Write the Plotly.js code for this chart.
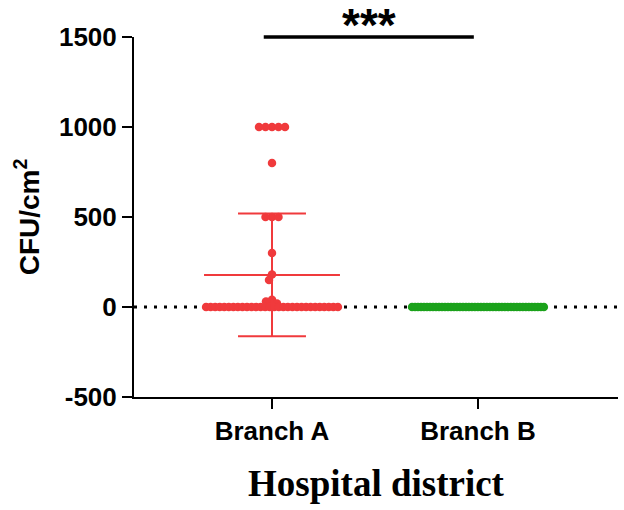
<!DOCTYPE html>
<html>
<head>
<meta charset="utf-8">
<script src="https://cdn.plot.ly/plotly-3.0.1.min.js"></script>
<style>html,body{margin:0;padding:0;background:#fff;}#chart{width:624px;height:510px;}</style>
</head>
<body>
<div id="chart"></div>
<script>
// ---- data ----
const categories = ["Branch A", "Branch B"];
const branchA = [1000, 1000, 1000, 1000, 1000, 800, 500, 500, 500, 300, 180, 150, 40, 30, 20,
  0,0,0,0,0,0,0,0,0,0,0,0,0,0,0,0,0,0,0,0,0,0,0,0,0,0,0,0,0,0];
const branchB = [0,0,0,0,0,0,0,0,0,0,0,0,0,0,0,0,0,0,0,0,0,0,0,0,0,0,0,0,0,0,
  0,0,0,0,0,0,0,0,0,0,0,0,0,0,0];
const yTicks = [-500, 0, 500, 1000, 1500];
const sigLabel = "***";

const colors = ["#F03A3C", "#1BA21B"];

// ---- helpers ----
function mean(a){ return a.reduce((s,v)=>s+v,0)/a.length; }
function sd(a){ const m=mean(a); return Math.sqrt(a.reduce((s,v)=>s+(v-m)*(v-m),0)/(a.length-1)); }

// scatter layout (beeswarm-like): zero row spread evenly, others avoid overlap
const pxPerX = 206, pxPerY = 0.18, dotD = 7, halfW = 0.32;
function swarm(vals, center){
  const xs = new Array(vals.length);
  const zeroIdx = [], placed = [];
  vals.forEach((v,i)=>{ if(v===0) zeroIdx.push(i); });
  zeroIdx.forEach((i,k)=>{
    xs[i] = center + (zeroIdx.length>1 ? -halfW + 2*halfW*k/(zeroIdx.length-1) : 0);
  });
  const order = vals.map((v,i)=>i).filter(i=>vals[i]!==0).sort((a,b)=>vals[b]-vals[a]);
  order.forEach(i=>{
    const step = 0.5/pxPerX;
    for(let k=0;k<400;k++){
      const off = (k%2===0?1:-1)*Math.ceil(k/2)*step;
      const ok = placed.every(p=>{
        const dx=(off-p.o)*pxPerX, dy=(vals[i]-p.v)*pxPerY;
        return dx*dx+dy*dy >= (dotD-1)*(dotD-1);
      });
      if(ok){ xs[i]=center+off; placed.push({o:off,v:vals[i]}); break; }
    }
  });
  return xs;
}

const groups = [branchA, branchB];
const traces = [];

// zero reference dotted line
traces.push({x:[-0.67,1.68], y:[0,0], mode:"lines", line:{color:"#000", width:3, dash:"3px,7px"},
  hoverinfo:"skip", showlegend:false});

groups.forEach((g,gi)=>{
  traces.push({
    x: swarm(g, gi), y: g, type:"scatter", mode:"markers",
    marker:{color:colors[gi], size:8.5, line:{width:0}},
    showlegend:false, cliponaxis:false
  });
});

// mean and SD lines
groups.forEach((g,gi)=>{
  const m = mean(g), s = sd(g);
  const c = colors[gi];
  const lw = 2;
  traces.push({x:[gi-0.33, gi+0.33], y:[m,m], mode:"lines", line:{color:c,width:lw}, showlegend:false, hoverinfo:"skip"});
  if(s>0){
    traces.push({x:[gi,gi], y:[m-s,m+s], mode:"lines", line:{color:c,width:lw}, showlegend:false, hoverinfo:"skip"});
    traces.push({x:[gi-0.165, gi+0.165], y:[m+s,m+s], mode:"lines", line:{color:c,width:lw}, showlegend:false, hoverinfo:"skip"});
    traces.push({x:[gi-0.165, gi+0.165], y:[m-s,m-s], mode:"lines", line:{color:c,width:lw}, showlegend:false, hoverinfo:"skip"});
  }
});

const layout = {
  width:624, height:510,
  margin:{l:134, r:6, t:37, b:113},
  paper_bgcolor:"#fff", plot_bgcolor:"#fff",
  showlegend:false,
  xaxis:{
    range:[-0.67, 1.68], tickmode:"array", tickvals:[0,1], ticktext:categories,
    showgrid:false, zeroline:false, showline:true, linecolor:"#000", linewidth:2,
    ticks:"outside", ticklen:10, tickwidth:1.5, tickcolor:"#000",
    tickfont:{family:"Liberation Sans, Arial, sans-serif", size:26, color:"#000", weight:"bold"},
    title:{text:"Hospital district", standoff:25,
      font:{family:"Liberation Serif, Times New Roman, serif", size:37, color:"#000", weight:"bold"}}
  },
  yaxis:{
    range:[-500, 1500], tickmode:"array", tickvals:yTicks, ticktext:yTicks.map(String),
    showgrid:false, zeroline:false, showline:true, linecolor:"#000", linewidth:2,
    ticks:"outside", ticklen:10, tickwidth:2, tickcolor:"#000",
    tickfont:{family:"Liberation Sans, Arial, sans-serif", size:26, color:"#000", weight:"bold"},
    title:{text:"CFU/cm<sup>2</sup>", standoff:11,
      font:{family:"Liberation Sans, Arial, sans-serif", size:28, color:"#000", weight:"bold"}}
  },
  shapes:[{type:"line", xref:"x", yref:"paper", x0:-0.04, x1:0.98, y0:1, y1:1,
    line:{color:"#000", width:3.5}}],
  annotations:[{xref:"x", yref:"paper", x:0.47, y:1.1028, yanchor:"top", yshift:3, text:sigLabel, showarrow:false,
    font:{family:"Liberation Sans, Arial, sans-serif", size:46, color:"#000", weight:"bold"}}]
};

Plotly.newPlot("chart", traces, layout, {displayModeBar:false, staticPlot:true});
</script>
</body>
</html>
